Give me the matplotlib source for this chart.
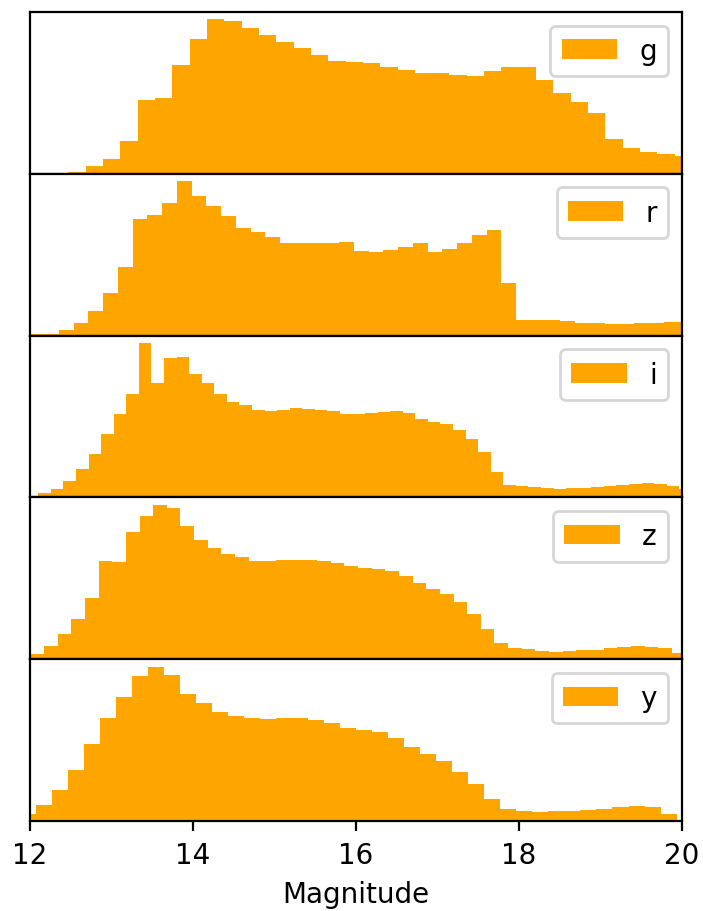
import numpy as np
import matplotlib
matplotlib.use("Agg")
import matplotlib.pyplot as plt

# Histogram counts per photometric band, with the first bin edge and bin width (mag)
bands = ["g", "r", "i", "z", "y"]

g_start, g_width = 12.470, 0.2126
g_counts = [6, 23, 43, 95, 218, 223, 321, 398, 456, 451, 430, 410, 388, 370, 350,
            333, 331, 328, 315, 306, 298, 296, 293, 290, 302, 314, 314, 278, 238,
            213, 178, 103, 75, 63, 58, 53]

r_start, r_width = 11.991, 0.1810
r_counts = [3, 5, 17, 38, 71, 125, 203, 346, 356, 391, 456, 413, 383, 353, 318,
            305, 290, 273, 273, 273, 273, 276, 250, 248, 253, 261, 273, 248, 255,
            273, 296, 311, 156, 45, 45, 46, 43, 38, 36, 35, 33, 36, 38, 40, 40]

i_start, i_width = 11.948, 0.1542
i_counts = [4, 12, 25, 50, 85, 130, 189, 249, 309, 462, 342, 419, 422, 369, 344,
            310, 287, 277, 262, 259, 262, 267, 264, 263, 259, 249, 249, 252, 255,
            259, 252, 235, 225, 219, 202, 175, 135, 75, 37, 34, 32, 27, 25, 27,
            29, 30, 34, 37, 40, 42, 41, 35, 25]

z_start, z_width = 12.004, 0.1675
z_counts = [15, 40, 75, 118, 182, 290, 287, 375, 423, 455, 448, 392, 353, 330,
            310, 303, 290, 290, 293, 293, 293, 290, 285, 276, 269, 268, 260, 245,
            225, 208, 192, 168, 135, 90, 48, 33, 30, 25, 23, 25, 27, 28, 32, 35,
            38, 35, 33, 18]

y_start, y_width = 11.873, 0.1966
y_counts = [23, 48, 92, 153, 230, 307, 372, 432, 460, 435, 380, 352, 325, 313,
            307, 305, 308, 307, 303, 292, 278, 273, 265, 248, 223, 200, 180, 147,
            110, 65, 37, 30, 28, 30, 32, 35, 38, 42, 45, 42, 22, 5]

series = [
    (g_start, g_width, g_counts),
    (r_start, r_width, r_counts),
    (i_start, i_width, i_counts),
    (z_start, z_width, z_counts),
    (y_start, y_width, y_counts),
]

x_min, x_max = 12, 20
x_ticks = [12, 14, 16, 18, 20]

fig, axes = plt.subplots(len(bands), 1, sharex=True, figsize=(3.515, 4.56), dpi=200)
fig.subplots_adjust(left=0.0427, right=0.9701, top=0.9861, bottom=0.0984, hspace=0)

for ax, band, (start, width, counts) in zip(axes, bands, series):
    counts = np.asarray(counts, dtype=float)
    edges = start + width * np.arange(len(counts) + 1)
    ax.hist(edges[:-1], bins=edges, weights=counts, color="orange", label=band)
    ax.set_xlim(x_min, x_max)
    ax.set_yticks([])
    ax.legend(loc="upper right")
    ax.tick_params(axis="x", bottom=False, labelbottom=False)

axes[-1].tick_params(axis="x", bottom=True, labelbottom=True)
axes[-1].set_xticks(x_ticks)
axes[-1].set_xlabel("Magnitude")

fig.savefig("out.png", dpi=200)
